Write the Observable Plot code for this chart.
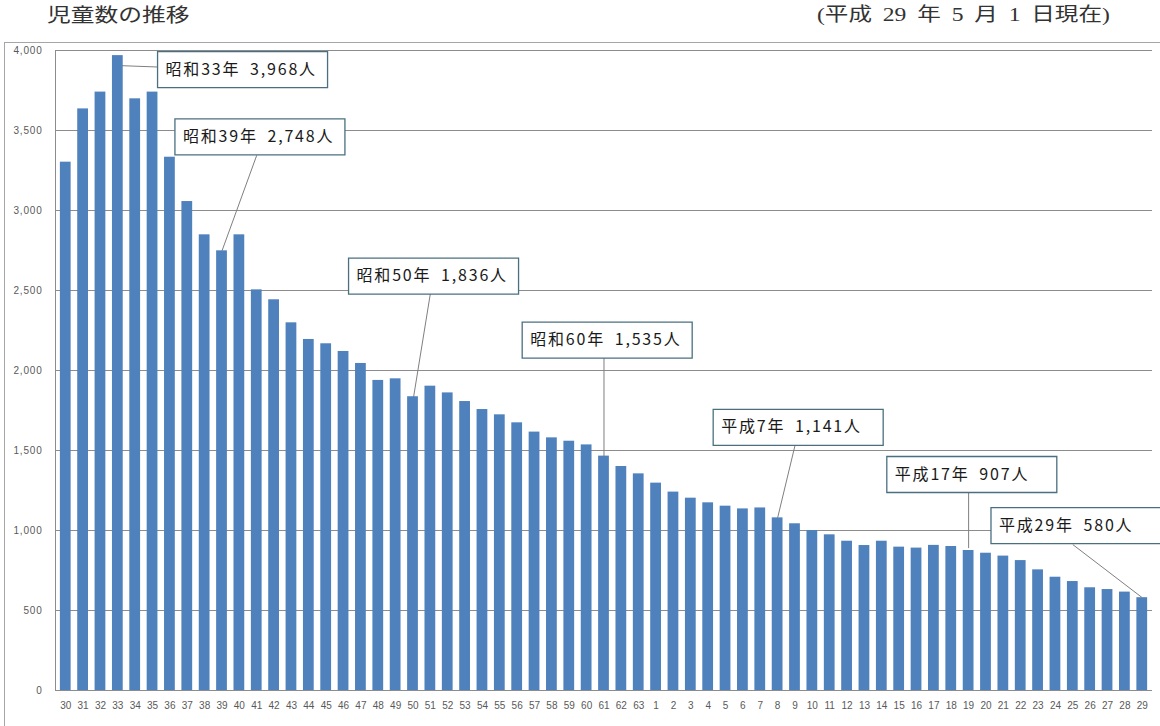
<!DOCTYPE html>
<html lang="ja">
<head>
<meta charset="utf-8">
<script src="https://cdn.jsdelivr.net/npm/d3@7"></script>
<script src="https://cdn.jsdelivr.net/npm/@observablehq/plot@0.6"></script>
<style>
  html, body { margin: 0; padding: 0; background: #fff; width: 1160px; height: 726px; overflow: hidden; position: relative; }
  .hdr { position: absolute; font-size: 19px; line-height: 22px; color: #333; white-space: pre; transform-origin: 0 0;
         font-family: "Liberation Serif", "Noto Sans CJK JP", serif; }
  #title { left: 47px; top: 5px; transform: scaleX(1.25); }
  #note { left: 817px; top: 4px; transform: scaleX(1.24); word-spacing: 4px; }
  #frame { position: absolute; left: 4px; top: 42px; width: 1200px; height: 760px; border-left: 1px solid #a6a6a6; border-top: 1px solid #a6a6a6; pointer-events: none; }
  #chart { position: absolute; left: 0; top: 40px; }
  #chart g[aria-label="text"] text { letter-spacing: 1.8px; }
  #chart g[aria-label="y-axis tick label"] text { letter-spacing: 0.8px; }
</style>
</head>
<body>
<div id="frame"></div>
<div id="title" class="hdr">児童数の推移</div>
<div id="note" class="hdr">(平成 29 年 5 月 1 日現在)</div>
<div id="chart"></div>
<script>
// 年度ラベル（昭和30〜63年、平成1〜29年）
const categories = [
  "30","31","32","33","34","35","36","37","38","39","40","41","42","43","44","45","46","47","48","49",
  "50","51","52","53","54","55","56","57","58","59","60","61","62","63",
  "1","2","3","4","5","6","7","8","9","10","11","12","13","14","15","16","17","18","19","20",
  "21","22","23","24","25","26","27","28","29"
];
// 児童数（人）
const pupils = [
  3302, 3635, 3740, 3968, 3698, 3740, 3333, 3056, 2848, 2748, 2848, 2504, 2442, 2298, 2194, 2167, 2119, 2044, 1938, 1948,
  1836, 1902, 1860, 1806, 1756, 1723, 1673, 1615, 1579, 1558, 1535, 1465, 1400, 1354,
  1296, 1240, 1202, 1173, 1152, 1135, 1141, 1079, 1042, 1000, 973, 933, 906, 933, 896, 890, 907, 900, 875, 858,
  840, 812, 754, 708, 681, 642, 631, 615, 580
];
const yTicks = [0, 500, 1000, 1500, 2000, 2500, 3000, 3500, 4000];

// 吹き出し（注記）
const annLabels = ["昭和33年\u20023,968人", "昭和39年\u20022,748人", "昭和50年\u20021,836人", "昭和60年\u20021,535人",
                   "平成7年\u20021,141人", "平成17年\u2002907人", "平成29年\u2002580人"];
const annBoxCat  = ["35", "36", "46", "56", "4", "14", "20"];
const annBoxVal  = [3880, 3460, 2590, 2190, 1645, 1350, 1030];
const annFromCat = ["37", "41", "51", "61", "9", "19", "25"];
const annFromVal = [3890, 3345, 2481, 2081, 1531, 1237, 912];
const annToCat   = ["33", "39", "50", "61", "8", "19", "29"];
const annToVal   = [3906, 2748, 1812, 1465, 1079, 890, 580];

const rows = categories.map((c, i) => ({cat: c, value: pupils[i]}));
const anns = annLabels.map((t, i) => ({
  label: t, boxCat: annBoxCat[i], boxVal: annBoxVal[i],
  fromCat: annFromCat[i], fromVal: annFromVal[i], toCat: annToCat[i], toVal: annToVal[i]
}));

const boxW = 170, boxH = 36;
const boxSymbol = {
  draw(context) {
    context.moveTo(-boxW / 2, -boxH / 2);
    context.lineTo(boxW / 2, -boxH / 2);
    context.lineTo(boxW / 2, boxH / 2);
    context.lineTo(-boxW / 2, boxH / 2);
    context.closePath();
  }
};

const chart = Plot.plot({
  width: 1160,
  height: 686,
  marginTop: 10,
  marginBottom: 36,
  marginLeft: 55,
  marginRight: 8,
  style: {fontFamily: "'Liberation Sans', 'Noto Sans CJK JP', sans-serif", fontSize: "10px", color: "#595959", background: "transparent"},
  x: {domain: categories, paddingInner: 0.38, paddingOuter: 0.28, round: false, label: null, tickSize: 0, tickPadding: 11},
  y: {domain: [0, 4000], ticks: yTicks, tickFormat: d3.format(","), label: null, tickSize: 0, tickPadding: 13},
  marks: [
    Plot.frame({anchor: "left", stroke: "#8c8c8c"}),
    Plot.ruleY(yTicks, {stroke: "#8c8c8c", strokeWidth: 1}),
    Plot.link(anns, {x1: "fromCat", y1: "fromVal", x2: "toCat", y2: "toVal", stroke: "#7f7f7f", strokeWidth: 1}),
    Plot.barY(rows, {x: "cat", y: "value", fill: "#4F81BD"}),
    Plot.dot(anns, {x: "boxCat", y: "boxVal", symbol: boxSymbol, r: 5, fill: "white", stroke: "#4a7080", strokeWidth: 1.3, dx: 5 + boxW / 2}),
    Plot.text(anns, {x: "boxCat", y: "boxVal", text: "label", textAnchor: "start", dx: 5 + 8, fontSize: 16, fill: "#1a1a1a",
                     fontFamily: "'Noto Sans CJK JP', sans-serif"})
  ]
});
document.getElementById("chart").appendChild(chart);
</script>
</body>
</html>
